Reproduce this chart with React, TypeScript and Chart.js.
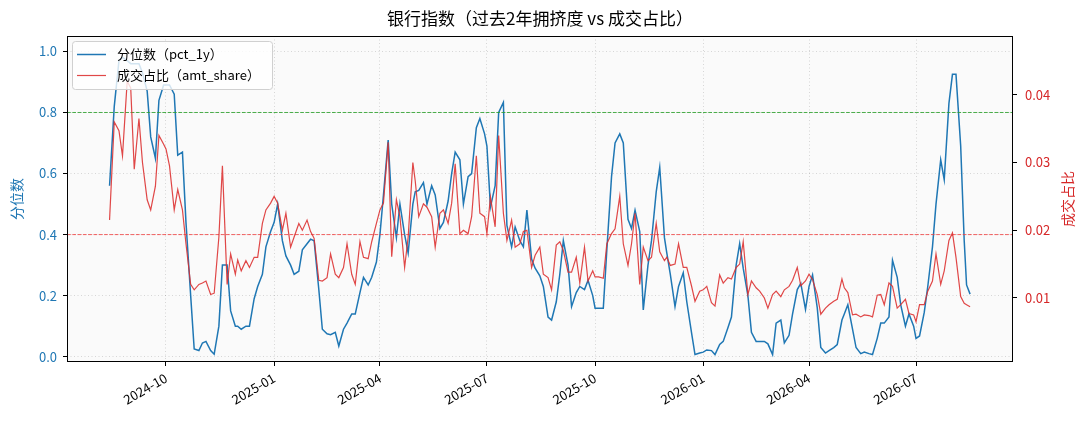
import React, { useEffect, useRef } from 'react';
import { Chart, registerables } from 'chart.js';

Chart.register(...registerables);

// sample dates (roughly every 3-4 days)
const dates = [
  '2024-08-14', '2024-08-18', '2024-08-22', '2024-08-25', '2024-08-29',
  '2024-09-01', '2024-09-04', '2024-09-08', '2024-09-11', '2024-09-15', '2024-09-18', '2024-09-22', '2024-09-25', '2024-09-29',
  '2024-10-01', '2024-10-04', '2024-10-08', '2024-10-11', '2024-10-15', '2024-10-18', '2024-10-22', '2024-10-25', '2024-10-29',
  '2024-11-01', '2024-11-04', '2024-11-08', '2024-11-11', '2024-11-15', '2024-11-18', '2024-11-22', '2024-11-25', '2024-11-29',
  '2024-12-01', '2024-12-04', '2024-12-08', '2024-12-11', '2024-12-15', '2024-12-18', '2024-12-22', '2024-12-25', '2024-12-29',
  '2025-01-01', '2025-01-04', '2025-01-08', '2025-01-11', '2025-01-15', '2025-01-18', '2025-01-22', '2025-01-25', '2025-01-29',
  '2025-02-01', '2025-02-04', '2025-02-08', '2025-02-11', '2025-02-15', '2025-02-18', '2025-02-22', '2025-02-25',
  '2025-03-01', '2025-03-04', '2025-03-08', '2025-03-11', '2025-03-15', '2025-03-18', '2025-03-22', '2025-03-25', '2025-03-29',
  '2025-04-01', '2025-04-04', '2025-04-08', '2025-04-11', '2025-04-15', '2025-04-18', '2025-04-22', '2025-04-25', '2025-04-29',
  '2025-05-01', '2025-05-04', '2025-05-08', '2025-05-11', '2025-05-15', '2025-05-18', '2025-05-22', '2025-05-25', '2025-05-29',
  '2025-06-01', '2025-06-04', '2025-06-08', '2025-06-11', '2025-06-15', '2025-06-18', '2025-06-22', '2025-06-25', '2025-06-29',
  '2025-07-01', '2025-07-04', '2025-07-08', '2025-07-11', '2025-07-15', '2025-07-18', '2025-07-22', '2025-07-25', '2025-07-29',
  '2025-08-01', '2025-08-04', '2025-08-08', '2025-08-11', '2025-08-15', '2025-08-18', '2025-08-22', '2025-08-25', '2025-08-29',
  '2025-09-01', '2025-09-04', '2025-09-08', '2025-09-11', '2025-09-15', '2025-09-18', '2025-09-22', '2025-09-25', '2025-09-29',
  '2025-10-01', '2025-10-04', '2025-10-08', '2025-10-11', '2025-10-15', '2025-10-18', '2025-10-22', '2025-10-25', '2025-10-29',
  '2025-11-01', '2025-11-04', '2025-11-08', '2025-11-11', '2025-11-15', '2025-11-18', '2025-11-22', '2025-11-25', '2025-11-29',
  '2025-12-01', '2025-12-04', '2025-12-08', '2025-12-11', '2025-12-15', '2025-12-18', '2025-12-22', '2025-12-25', '2025-12-29',
  '2026-01-01', '2026-01-04', '2026-01-08', '2026-01-11', '2026-01-15', '2026-01-18', '2026-01-22', '2026-01-25', '2026-01-29',
  '2026-02-01', '2026-02-04', '2026-02-08', '2026-02-11', '2026-02-15', '2026-02-18', '2026-02-22', '2026-02-25',
  '2026-03-01', '2026-03-04', '2026-03-08', '2026-03-11', '2026-03-15', '2026-03-18', '2026-03-22', '2026-03-25', '2026-03-29',
  '2026-04-01', '2026-04-04', '2026-04-08', '2026-04-11', '2026-04-15', '2026-04-18', '2026-04-22', '2026-04-25', '2026-04-29',
  '2026-05-01', '2026-05-04', '2026-05-08', '2026-05-11', '2026-05-15', '2026-05-18', '2026-05-22', '2026-05-25', '2026-05-29',
  '2026-06-01', '2026-06-04', '2026-06-08', '2026-06-11', '2026-06-15', '2026-06-18', '2026-06-22', '2026-06-25', '2026-06-29',
  '2026-07-01', '2026-07-04', '2026-07-08', '2026-07-11', '2026-07-15', '2026-07-18', '2026-07-22', '2026-07-25', '2026-07-29',
  '2026-08-01', '2026-08-04', '2026-08-08', '2026-08-11', '2026-08-13', '2026-08-16',
];

// 分位数 (pct_1y), left axis
const pct1y = [
  0.56, 0.82, 0.97, 0.98, 0.97,
  0.96, 0.96, 0.96, 0.93, 0.87, 0.72, 0.65, 0.84, 0.89,
  0.89, 0.89, 0.86, 0.66, 0.67, 0.44, 0.20, 0.025, 0.02,
  0.045, 0.05, 0.02, 0.008, 0.10, 0.30, 0.30, 0.15, 0.10,
  0.10, 0.09, 0.10, 0.10, 0.19, 0.23, 0.27, 0.36, 0.41,
  0.44, 0.50, 0.38, 0.33, 0.30, 0.27, 0.28, 0.35, 0.37,
  0.385, 0.38, 0.22, 0.09, 0.075, 0.072, 0.08, 0.035,
  0.09, 0.11, 0.14, 0.14, 0.21, 0.26, 0.235, 0.26, 0.31,
  0.40, 0.53, 0.71, 0.50, 0.39, 0.50, 0.40, 0.34, 0.50,
  0.54, 0.545, 0.57, 0.50, 0.56, 0.53, 0.42, 0.44, 0.51,
  0.60, 0.67, 0.645, 0.50, 0.59, 0.60, 0.75, 0.78, 0.73,
  0.69, 0.49, 0.56, 0.80, 0.833, 0.43, 0.36, 0.425, 0.38,
  0.36, 0.48, 0.32, 0.29, 0.265, 0.23, 0.13, 0.12, 0.18,
  0.27, 0.38, 0.30, 0.164, 0.21, 0.23, 0.22, 0.25, 0.20,
  0.159, 0.159, 0.159, 0.35, 0.59, 0.70, 0.73, 0.70, 0.45,
  0.42, 0.48, 0.41, 0.153, 0.30, 0.38, 0.54, 0.62, 0.39,
  0.34, 0.27, 0.164, 0.23, 0.275, 0.18, 0.08, 0.007, 0.012,
  0.015, 0.022, 0.02, 0.007, 0.04, 0.05, 0.095, 0.13, 0.30,
  0.37, 0.29, 0.20, 0.08, 0.05, 0.05, 0.05, 0.042,
  0.007, 0.11, 0.12, 0.045, 0.07, 0.14, 0.22, 0.24, 0.155,
  0.23, 0.268, 0.16, 0.03, 0.012, 0.02, 0.03, 0.04, 0.12,
  0.14, 0.17, 0.09, 0.03, 0.01, 0.015, 0.01, 0.007, 0.06,
  0.11, 0.11, 0.13, 0.316, 0.26, 0.17, 0.10, 0.14, 0.10,
  0.06, 0.068, 0.145, 0.23, 0.36, 0.50, 0.645, 0.58, 0.83,
  0.925, 0.925, 0.69, 0.38, 0.235, 0.205,
];

// 成交占比 (amt_share), right axis
const amtShare = [
  0.0215, 0.036, 0.0347, 0.031, 0.042,
  0.041, 0.029, 0.0365, 0.030, 0.0245, 0.023, 0.0265, 0.034, 0.0327,
  0.032, 0.0295, 0.023, 0.026, 0.023, 0.018, 0.012, 0.0112, 0.012,
  0.0122, 0.0125, 0.0105, 0.0107, 0.019, 0.0295, 0.012, 0.0165, 0.0135,
  0.0156, 0.014, 0.0155, 0.0145, 0.016, 0.016, 0.021, 0.023, 0.024,
  0.025, 0.024, 0.020, 0.0225, 0.0175, 0.019, 0.021, 0.020, 0.0215,
  0.0198, 0.0188, 0.0126, 0.0125, 0.013, 0.0165, 0.0135, 0.013,
  0.0145, 0.018, 0.0135, 0.012, 0.0183, 0.016, 0.0158, 0.0183, 0.021,
  0.023, 0.024, 0.033, 0.0161, 0.0245, 0.022, 0.0145, 0.019, 0.030,
  0.0273, 0.022, 0.0239, 0.0234, 0.022, 0.0175, 0.0225, 0.023, 0.021,
  0.024, 0.0298, 0.0195, 0.020, 0.0195, 0.022, 0.031, 0.0225, 0.022,
  0.0195, 0.0249, 0.0205, 0.034, 0.0225, 0.0185, 0.0215, 0.0175, 0.018,
  0.0198, 0.020, 0.0145, 0.0163, 0.0175, 0.0135, 0.013, 0.0112, 0.0178,
  0.0183, 0.017, 0.0138, 0.0138, 0.016, 0.0122, 0.0175, 0.0125, 0.014,
  0.0131, 0.0131, 0.0129, 0.018, 0.0195, 0.0202, 0.025, 0.018, 0.0148,
  0.018, 0.0225, 0.012, 0.0175, 0.0155, 0.016, 0.021, 0.0168, 0.0155,
  0.016, 0.0148, 0.015, 0.018, 0.0145, 0.0145, 0.0118, 0.0095, 0.011,
  0.0112, 0.0117, 0.0093, 0.0088, 0.0134, 0.0122, 0.013, 0.0128, 0.0145,
  0.015, 0.0183, 0.0105, 0.0125, 0.0115, 0.011, 0.010, 0.0085,
  0.0105, 0.011, 0.0102, 0.0112, 0.0117, 0.0126, 0.0145, 0.0118, 0.0125,
  0.0135, 0.0127, 0.0105, 0.0076, 0.0085, 0.009, 0.0095, 0.0098, 0.0128,
  0.0115, 0.0108, 0.0075, 0.0076, 0.0072, 0.0075, 0.0074, 0.0072, 0.0104,
  0.0105, 0.009, 0.0122, 0.0117, 0.0085, 0.009, 0.0098, 0.0077, 0.0075,
  0.0065, 0.009, 0.009, 0.011, 0.0125, 0.0165, 0.012, 0.014, 0.0185,
  0.0196, 0.016, 0.0102, 0.0092, 0.009, 0.0087,
];

const xTickDates = ['2024-10-01', '2025-01-01', '2025-04-01', '2025-07-01', '2025-10-01', '2026-01-01', '2026-04-01', '2026-07-01'];
const xTickLabels = ['2024-10', '2025-01', '2025-04', '2025-07', '2025-10', '2026-01', '2026-04', '2026-07'];
const leftTicks = [0, 0.2, 0.4, 0.6, 0.8, 1.0];
const rightTicks = [0.01, 0.02, 0.03, 0.04];
const highLine = 0.8;
const lowLine = 0.4;

const TITLE = '银行指数（过去2年拥挤度 vs 成交占比）';
const LABEL_PCT = '分位数（pct_1y）';
const LABEL_AMT = '成交占比（amt_share）';

const FONT = "'Noto Sans CJK SC', 'Noto Sans', sans-serif";
const BLUE = '#1f77b4';
const RED = '#d62728';
const RED_LINE = 'rgba(220,45,45,0.88)';
const GRID = 'rgba(0,0,0,0.18)';

const toDay = (s: string) => Date.parse(s + 'T00:00:00Z') / 86400000;

const App: React.FC = () => {
  const chartRef = useRef<HTMLCanvasElement>(null);
  const chartInstance = useRef<Chart | null>(null);

  useEffect(() => {
    if (!chartRef.current) return;
    if (chartInstance.current) chartInstance.current.destroy();

    const xs = dates.map(toDay);
    const base = toDay('2024-10-01');
    const xMin = base - 84.2;
    const xMax = base + 720.5;

    const decor = {
      id: 'decor',
      beforeDraw(chart: any) {
        const { ctx, chartArea: a, width, height } = chart;
        ctx.save();
        ctx.fillStyle = '#ffffff';
        ctx.fillRect(0, 0, width, height);
        ctx.fillStyle = '#fafafa';
        ctx.fillRect(a.left, a.top, a.right - a.left, a.bottom - a.top);
        ctx.restore();
      },
      afterDatasetsDraw(chart: any) {
        const { ctx, chartArea: a } = chart;
        ctx.save();
        // frame
        ctx.strokeStyle = '#000';
        ctx.lineWidth = 1;
        ctx.strokeRect(a.left + 0.5, a.top + 0.5, a.right - a.left - 1, a.bottom - a.top - 1);

        // legend
        ctx.beginPath();
        ctx.roundRect(72.5, 41.5, 200, 48, 3);
        ctx.fillStyle = 'rgba(255,255,255,0.8)';
        ctx.fill();
        ctx.strokeStyle = '#d0d0d0';
        ctx.lineWidth = 1;
        ctx.stroke();

        ctx.lineWidth = 1.5;
        ctx.strokeStyle = BLUE;
        ctx.beginPath();
        ctx.moveTo(77, 54.5);
        ctx.lineTo(106, 54.5);
        ctx.stroke();
        ctx.lineWidth = 1.2;
        ctx.strokeStyle = RED_LINE;
        ctx.beginPath();
        ctx.moveTo(77, 75.5);
        ctx.lineTo(106, 75.5);
        ctx.stroke();

        ctx.fillStyle = '#000';
        ctx.font = `13px ${FONT}`;
        ctx.textAlign = 'left';
        ctx.textBaseline = 'middle';
        ctx.fillText(LABEL_PCT, 117, 54.5);
        ctx.fillText(LABEL_AMT, 117, 75.5);
        ctx.restore();
      },
      afterDraw(chart: any) {
        const { ctx } = chart;
        ctx.save();
        ctx.fillStyle = '#000';
        ctx.font = `17px ${FONT}`;
        ctx.textAlign = 'center';
        ctx.textBaseline = 'middle';
        ctx.fillText(TITLE, 540, 19);

        ctx.font = `14px ${FONT}`;
        ctx.fillStyle = BLUE;
        ctx.translate(17, 199);
        ctx.rotate(-Math.PI / 2);
        ctx.fillText('分位数', 0, 0);
        ctx.restore();

        ctx.save();
        ctx.font = `14px ${FONT}`;
        ctx.fillStyle = RED;
        ctx.textAlign = 'center';
        ctx.textBaseline = 'middle';
        ctx.translate(1068, 199);
        ctx.rotate(-Math.PI / 2);
        ctx.fillText('成交占比', 0, 0);
        ctx.restore();
      },
    };

    chartInstance.current = new Chart(chartRef.current, {
      type: 'line',
      data: {
        datasets: [
          {
            label: LABEL_PCT,
            data: xs.map((x, i) => ({ x, y: pct1y[i] })),
            yAxisID: 'y',
            borderColor: BLUE,
            borderWidth: 1.5,
            pointRadius: 0,
            order: 2,
          },
          {
            label: 'high',
            data: [{ x: xMin, y: highLine }, { x: xMax, y: highLine }],
            yAxisID: 'y',
            borderColor: 'rgba(44,160,44,0.85)',
            borderWidth: 1,
            borderDash: [3.7, 1.6],
            pointRadius: 0,
            order: 1,
          },
          {
            label: 'low',
            data: [{ x: xMin, y: lowLine }, { x: xMax, y: lowLine }],
            yAxisID: 'y',
            borderColor: 'rgba(240,60,60,0.8)',
            borderWidth: 1,
            borderDash: [3.7, 1.6],
            pointRadius: 0,
            order: 1,
          },
          {
            label: LABEL_AMT,
            data: xs.map((x, i) => ({ x, y: amtShare[i] })),
            yAxisID: 'y1',
            borderColor: RED_LINE,
            borderWidth: 1.2,
            pointRadius: 0,
            order: 0,
          },
        ],
      },
      options: {
        animation: false,
        responsive: true,
        maintainAspectRatio: false,
        layout: { padding: { top: 36, left: 0, right: 0, bottom: 0 } },
        plugins: {
          legend: { display: false },
          tooltip: { enabled: false },
          title: { display: false },
        },
        scales: {
          x: {
            type: 'linear',
            position: 'bottom',
            min: xMin,
            max: xMax,
            afterBuildTicks: (s: any) => {
              s.ticks = xTickDates.map((d) => ({ value: toDay(d) }));
            },
            afterFit: (s: any) => {
              s.height = 67;
            },
            ticks: {
              color: '#000',
              font: { family: FONT, size: 13 },
              minRotation: 30,
              maxRotation: 30,
              autoSkip: false,
              padding: 4,
              callback: (_v: any, i: number) => xTickLabels[i],
            },
            grid: { color: GRID, lineWidth: 0.8, tickLength: 4, tickColor: '#000', tickWidth: 1, tickBorderDash: [] },
            border: { display: false, dash: [1, 2.5] },
          },
          y: {
            position: 'left',
            min: -0.0174,
            max: 1.0506,
            afterBuildTicks: (s: any) => {
              s.ticks = leftTicks.map((v) => ({ value: v }));
            },
            afterFit: (s: any) => {
              s.width = 67;
            },
            ticks: {
              color: BLUE,
              font: { family: FONT, size: 13 },
              padding: 6,
              callback: (v: any) => Number(v).toFixed(1),
            },
            grid: { color: GRID, lineWidth: 0.8, tickLength: 4, tickColor: '#000', tickWidth: 1, tickBorderDash: [] },
            border: { display: false, dash: [1, 2.5] },
          },
          y1: {
            position: 'right',
            min: 0.00054,
            max: 0.04868,
            afterBuildTicks: (s: any) => {
              s.ticks = rightTicks.map((v) => ({ value: v }));
            },
            afterFit: (s: any) => {
              s.width = 76;
            },
            ticks: {
              color: RED,
              font: { family: FONT, size: 13 },
              padding: 8,
              callback: (v: any) => Number(v).toFixed(2),
            },
            grid: { drawOnChartArea: false, tickLength: 4, tickColor: '#000', tickWidth: 1 },
            border: { display: false },
          },
        },
      },
      plugins: [decor],
    } as any);

    return () => {
      if (chartInstance.current) {
        chartInstance.current.destroy();
        chartInstance.current = null;
      }
    };
  }, []);

  return (
    <div style={{ position: 'absolute', left: 0, top: 0, width: 1089, height: 429, background: '#fff' }}>
      <canvas ref={chartRef}></canvas>
    </div>
  );
};

export default App;
